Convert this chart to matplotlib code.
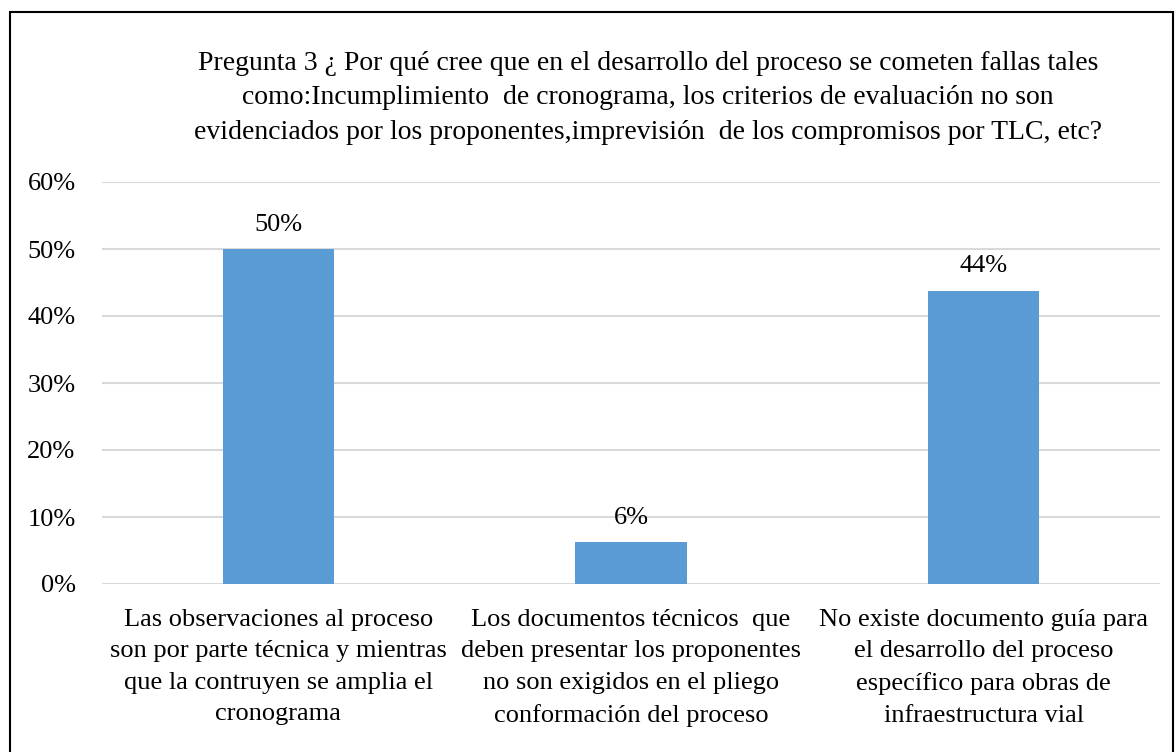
import matplotlib.pyplot as plt
from matplotlib.patches import Rectangle
from matplotlib.ticker import PercentFormatter

plt.rcParams['font.family'] = ['Liberation Serif', 'DejaVu Serif']

# datos de la pregunta 3
categorias = [
    "Las observaciones al proceso\nson por parte técnica y mientras\nque la contruyen se amplia el\ncronograma",
    "Los documentos técnicos  que\ndeben presentar los proponentes\nno son exigidos en el pliego\nconformación del proceso",
    "No existe documento guía para\nel desarrollo del proceso\nespecífico para obras de\ninfraestructura vial",
]
valores = [0.50, 0.0625, 0.4375]
etiquetas = ["50%", "6%", "44%"]
titulo = ("Pregunta 3 ¿ Por qué cree que en el desarrollo del proceso se cometen fallas tales\n"
          "como:Incumplimiento  de cronograma, los criterios de evaluación no son\n"
          "evidenciados por los proponentes,imprevisión  de los compromisos por TLC, etc?")

fig = plt.figure(figsize=(11.76, 7.52), dpi=100)
ax = fig.add_axes([102/1176, 1 - 584/752, 1058/1176, 402/752])

x = range(len(categorias))
ax.bar(x, valores, width=0.315, color='#5B9BD5', zorder=3)
for i, v in enumerate(valores):
    ax.text(i, v + 0.02, etiquetas[i], ha='center', va='bottom', fontsize=19)

ax.set_ylim(0, 0.6)
ax.set_xlim(-0.5, 2.5)
ax.set_yticks([0, 0.1, 0.2, 0.3, 0.4, 0.5, 0.6])
ax.yaxis.set_major_formatter(PercentFormatter(1.0, decimals=0))
ax.set_xticks(list(x))
ax.set_xticklabels(categorias, fontsize=19.5, linespacing=1.55)
ax.tick_params(axis='both', length=0, labelsize=19)
ax.tick_params(axis='y', pad=19)
ax.tick_params(axis='x', pad=18)
ax.grid(axis='y', color='#D9D9D9', linewidth=1.5, zorder=0)
for s in ax.spines.values():
    s.set_visible(False)

fig.text(648/1176, 1 - 51/752, titulo, ha='center', va='top', fontsize=20, linespacing=1.49)

# marco exterior
fig.patches.append(Rectangle((10/1176, -0.01), 1163/1176, 1 - 12/752 + 0.01,
                             transform=fig.transFigure, fill=False,
                             edgecolor='black', linewidth=1.5))

fig.savefig('out.png', dpi=100)
